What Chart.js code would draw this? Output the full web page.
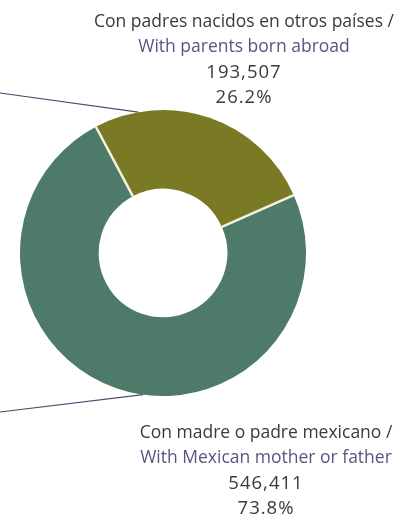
<!DOCTYPE html>
<html><head><meta charset="utf-8">
<script src="https://cdn.jsdelivr.net/npm/chart.js@4/dist/chart.umd.min.js"></script>
<style>html,body{margin:0;padding:0;background:#fff}#wrap{width:402px;height:516px}</style>
</head><body><div id="wrap"><canvas id="c" width="402" height="516"></canvas></div>
<script>
const categoriesEs = ["Con padres nacidos en otros países /", "Con madre o padre mexicano /"];
const categoriesEn = ["With parents born abroad", "With Mexican mother or father"];
const values = [193507, 546411];
const percentLabels = ["26.2%", "73.8%"];
const colors = ["#7b7a24", "#4e7a6a"];

const fmt = n => n.toLocaleString('en-US');
const labelPlugin = {
  id: 'labels',
  afterDatasetsDraw(chart) {
    const ctx = chart.ctx;
    const arcs = chart.getDatasetMeta(0).data;
    ctx.save();
    // separators between slices
    ctx.strokeStyle = '#f4f4dc';
    ctx.lineWidth = 2.5;
    arcs.forEach(a => {
      const ang = a.startAngle;
      ctx.beginPath();
      ctx.moveTo(a.x + a.innerRadius * Math.cos(ang), a.y + a.innerRadius * Math.sin(ang));
      ctx.lineTo(a.x + a.outerRadius * Math.cos(ang), a.y + a.outerRadius * Math.sin(ang));
      ctx.stroke();
    });
    // leader lines
    ctx.strokeStyle = '#4b4a6e';
    ctx.lineWidth = 1.2;
    const pt = (arc, ang) => [arc.x + arc.outerRadius * Math.cos(ang), arc.y + arc.outerRadius * Math.sin(ang)];
    let p = pt(arcs[0], -1.745);
    ctx.beginPath(); ctx.moveTo(0, 93); ctx.lineTo(p[0], p[1]); ctx.stroke();
    p = pt(arcs[1], 1.71);
    ctx.beginPath(); ctx.moveTo(0, 412); ctx.lineTo(p[0], p[1]); ctx.stroke();
    // texts
    ctx.textAlign = 'center';
    ctx.textBaseline = 'middle';
    const blocks = [{x: 244, y: 22}, {x: 266, y: 433}];
    blocks.forEach((b, i) => {
      ctx.font = '17.5px "Open Sans", sans-serif';
      ctx.letterSpacing = '0px';
      ctx.fillStyle = '#3a3a3a';
      ctx.fillText(categoriesEs[i], b.x, b.y);
      ctx.fillStyle = '#5c5382';
      ctx.fillText(categoriesEn[i], b.x, b.y + 25.5);
      ctx.fillStyle = '#3a3a3a';
      ctx.font = '18.5px "Open Sans", sans-serif';
      ctx.letterSpacing = '1px';
      ctx.fillText(fmt(values[i]), b.x, b.y + 51);
      ctx.fillText(percentLabels[i], b.x, b.y + 76);
    });
    ctx.restore();
  }
};

new Chart(document.getElementById('c'), {
  type: 'doughnut',
  data: {
    labels: categoriesEn,
    datasets: [{
      data: values,
      backgroundColor: colors,
      borderWidth: 0
    }]
  },
  options: {
    responsive: false,
    animation: false,
    rotation: -28,
    cutout: '45%',
    layout: { padding: { left: 20, right: 96, top: 110, bottom: 120 } },
    plugins: { legend: { display: false }, tooltip: { enabled: false } }
  },
  plugins: [labelPlugin]
});
</script>
</body></html>
